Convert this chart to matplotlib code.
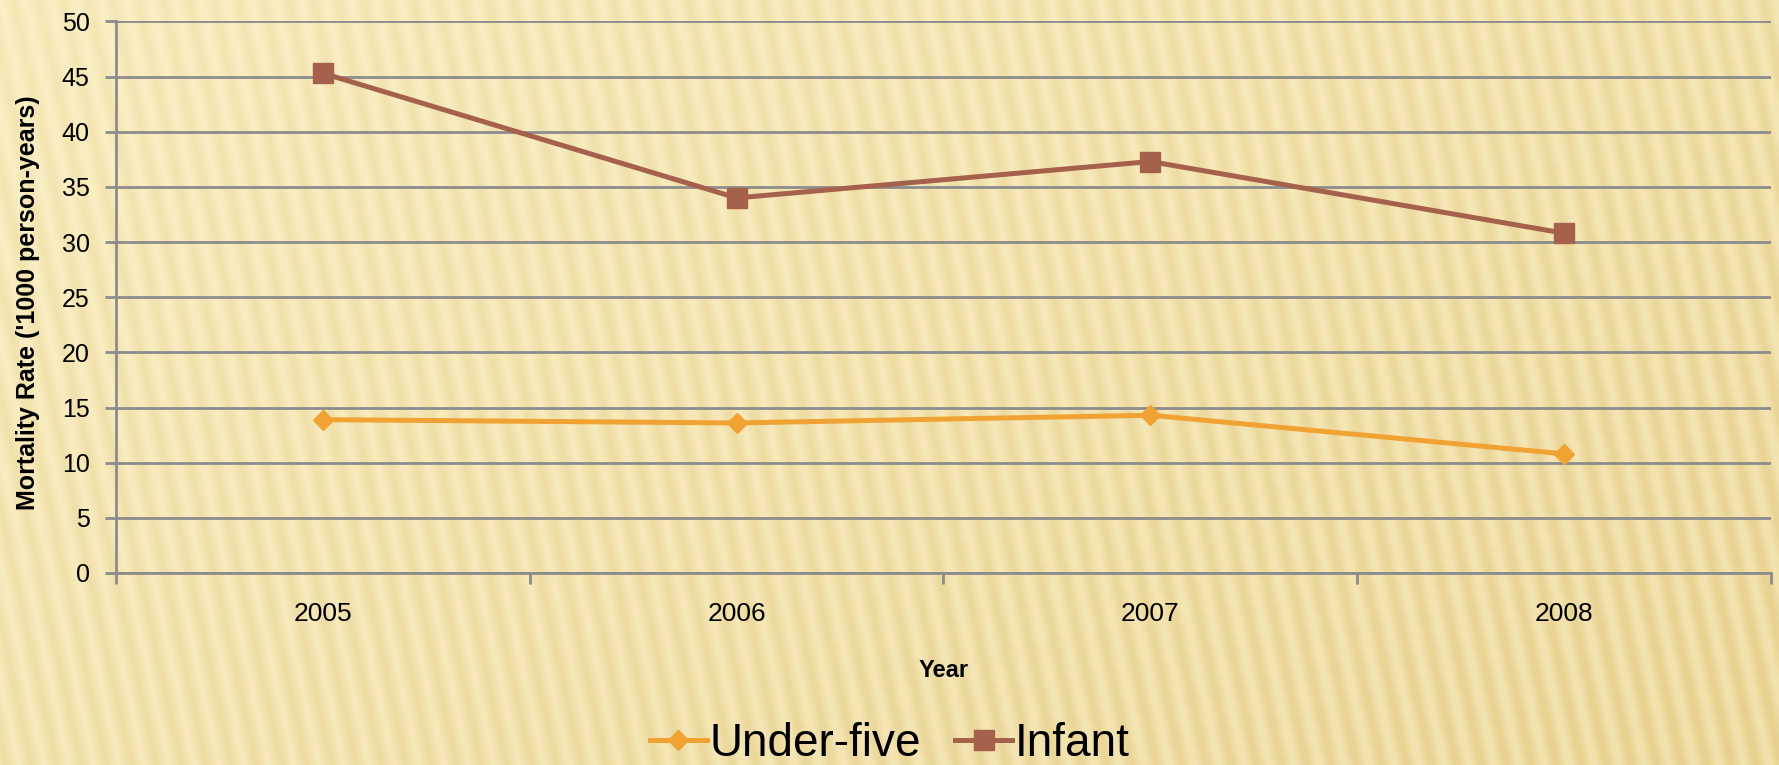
import numpy as np
import matplotlib.pyplot as plt

years = ['2005', '2006', '2007', '2008']
under_five = [13.9, 13.6, 14.3, 10.8]
infant = [45.3, 34.0, 37.3, 30.8]

plt.rcParams['font.family'] = ['Liberation Sans', 'DejaVu Sans']

fig = plt.figure(figsize=(17.79, 7.65), dpi=100)

# striped background
bg = fig.add_axes([0, 0, 1, 1], zorder=-10)
h, w = 765, 1779
yy, xx = np.mgrid[0:h, 0:w]
t = (xx + 0.22 * (h - yy)) / 25.0
stripes = 0.5 + 0.5 * np.sin(2 * np.pi * t)
shade = 0.2 + 0.8 * (xx / w * 0.6 + yy / h * 0.4)
light = np.array([253, 243, 204]) / 255
dark = np.array([230, 207, 140]) / 255
mix = np.clip(0.5 * shade + 0.45 * stripes * (0.4 + 0.6 * shade), 0, 1)
img = light[None, None, :] * (1 - mix[..., None]) + dark[None, None, :] * mix[..., None]
bg.imshow(img, aspect='auto', extent=[0, 1, 0, 1])
bg.axis('off')

ax = fig.add_axes([0.0652, 0.251, 0.9303, 0.721])
ax.patch.set_alpha(0)
x = np.arange(len(years))

ax.plot(x, under_five, color='#F0A232', lw=3.6, marker='D', ms=10.5,
        label='Under-five', zorder=3)
ax.plot(x, infant, color='#A5614B', lw=3.6, marker='s', ms=14,
        label='Infant', zorder=3)

ax.set_xlim(-0.5, 3.5)
ax.set_ylim(0, 50)
ax.set_yticks(range(0, 51, 5))
ax.set_xticks(x)
ax.set_xticklabels(years)
ax.set_xticks(np.arange(-0.5, 4, 1), minor=True)
ax.tick_params(axis='x', which='major', length=0, pad=21, labelsize=19)
ax.tick_params(axis='x', which='minor', length=8, width=2, color='#8C8C8C', direction='out')
ax.tick_params(axis='y', length=8, width=2, color='#8C8C8C', pad=11, labelsize=18)
ax.grid(axis='y', color='#8C8C8C', lw=2)
ax.set_axisbelow(True)
for s in ['top', 'right']:
    ax.spines[s].set_visible(False)
for s in ['left', 'bottom']:
    ax.spines[s].set_color('#8C8C8C')
    ax.spines[s].set_linewidth(2)

ax.set_xlabel('Year', fontsize=17, fontweight='bold', labelpad=24)
ax.set_ylabel("Mortality Rate ('1000 person-years)", fontsize=18, fontweight='bold')
ax.yaxis.set_label_coords(-0.046, 0.49)

fig.legend(loc='center', bbox_to_anchor=(0.5, 1 - 744 / 765), ncol=2, frameon=False,
           fontsize=33, handlelength=1.25, handletextpad=0.05, columnspacing=0.75,
           borderaxespad=0)

fig.savefig('out.png', dpi=100)
